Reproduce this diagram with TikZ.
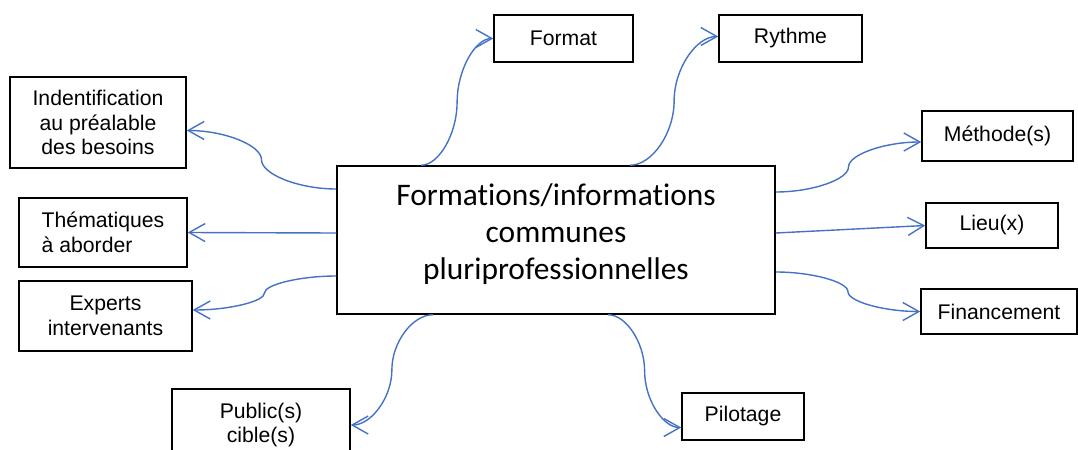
\documentclass[tikz,border=0pt]{standalone}
\usepackage{fontspec}
\setmainfont{Liberation Sans}
\newfontfamily\titlefont[Ligatures=CommonOff]{Carlito}
\usetikzlibrary{arrows.meta,calc}
\definecolor{linkblue}{HTML}{4472C4}

\begin{document}
\begin{tikzpicture}[
  x=0.5pt, y=-0.5pt,
  topic/.style={rectangle, draw=black, line width=0.75pt, fill=white,
                align=center, inner sep=2pt,
                font=\fontsize{10.6}{12.3}\selectfont},
  link/.style={draw=linkblue, line width=0.7pt,
               -{Straight Barb[length=8pt,width=9pt]}},
  curved/.style={to path={let \p1=(\tikztostart), \p2=(\tikztotarget) in
    .. controls ({0.75*\x1+0.25*\x2},\y1) and ({0.5*\x1+0.5*\x2},{0.75*\y1+0.25*\y2})
    .. ({0.5*\x1+0.5*\x2},{0.5*\y1+0.5*\y2})
    .. controls ({0.5*\x1+0.5*\x2},{0.25*\y1+0.75*\y2}) and ({0.25*\x1+0.75*\x2},\y2)
    .. (\p2) \tikztonodes}}
]
\useasboundingbox (0,0) rectangle (1078,450);
\clip (0,0) rectangle (1078,450);

% ── centre ───────────────────────────────────────────────────────────────────
\node[topic, minimum width=219pt, minimum height=74pt, text depth=8.5pt,
      font=\titlefont\fontsize{15.7}{18.7}\selectfont] (centre) at (556,240)
  {Formations/informations\\communes\\pluriprofessionnelles};

% ── topics ───────────────────────────────────────────────────────────────────
\node[topic, minimum width=88pt, minimum height=45.5pt] (ident) at (98,122.5)
  {Indentification\\au préalable\\des besoins};
\node[topic, minimum width=84pt, minimum height=34.5pt, align=left] (themes) at (103,232.5)
  {Thématiques\\à aborder};
\node[topic, minimum width=86.5pt, minimum height=35pt] (experts) at (105.5,316)
  {Experts\\intervenants};
\node[topic, minimum width=69.5pt, minimum height=23.5pt] (format) at (563.5,38.5) {Format};
\node[topic, minimum width=71.5pt, minimum height=23.5pt] (rythme) at (790.5,38.5) {Rythme};
\node[topic, minimum width=75.5pt, minimum height=25pt] (methode) at (997.5,136) {Méthode(s)};
\node[topic, minimum width=66pt, minimum height=22.5pt] (lieu) at (992,225.5) {Lieu(x)};
\node[topic, minimum width=78pt, minimum height=22.5pt] (finance) at (999,311.5) {Financement};
\node[topic, minimum width=89pt, minimum height=36pt] (public) at (261,425)
  {Public(s)\\cible(s)};
\node[topic, minimum width=61pt, minimum height=23.5pt] (pilotage) at (743,416.5) {Pilotage};

% ── connectors ───────────────────────────────────────────────────────────────
\draw[link] ([yshift=25.5pt]centre.west) to[curved] ([yshift=-4pt]ident.east);
\draw[link] ([yshift=3.5pt]centre.west) -- (themes.east);
\draw[link] ([yshift=-18pt]centre.west) to[curved] ([yshift=3pt]experts.east);
\draw[link] ([xshift=-67.5pt]centre.north) to[curved] (format.west);
\draw[link] ([xshift=37pt]centre.north) to[curved] ([yshift=1pt]rythme.west);
\draw[link] ([yshift=24pt]centre.east) to[curved] ([yshift=-3pt]methode.west);
\draw[link] ([yshift=3.5pt]centre.east) -- (lieu.west);
\draw[link] ([yshift=-16pt]centre.east) to[curved] (finance.west);
\draw[link] ([xshift=-61.5pt]centre.south) to[curved] (public.east);
\draw[link] ([xshift=26pt]centre.south) to[curved] ([yshift=-5.5pt]pilotage.west);
\end{tikzpicture}
\end{document}
